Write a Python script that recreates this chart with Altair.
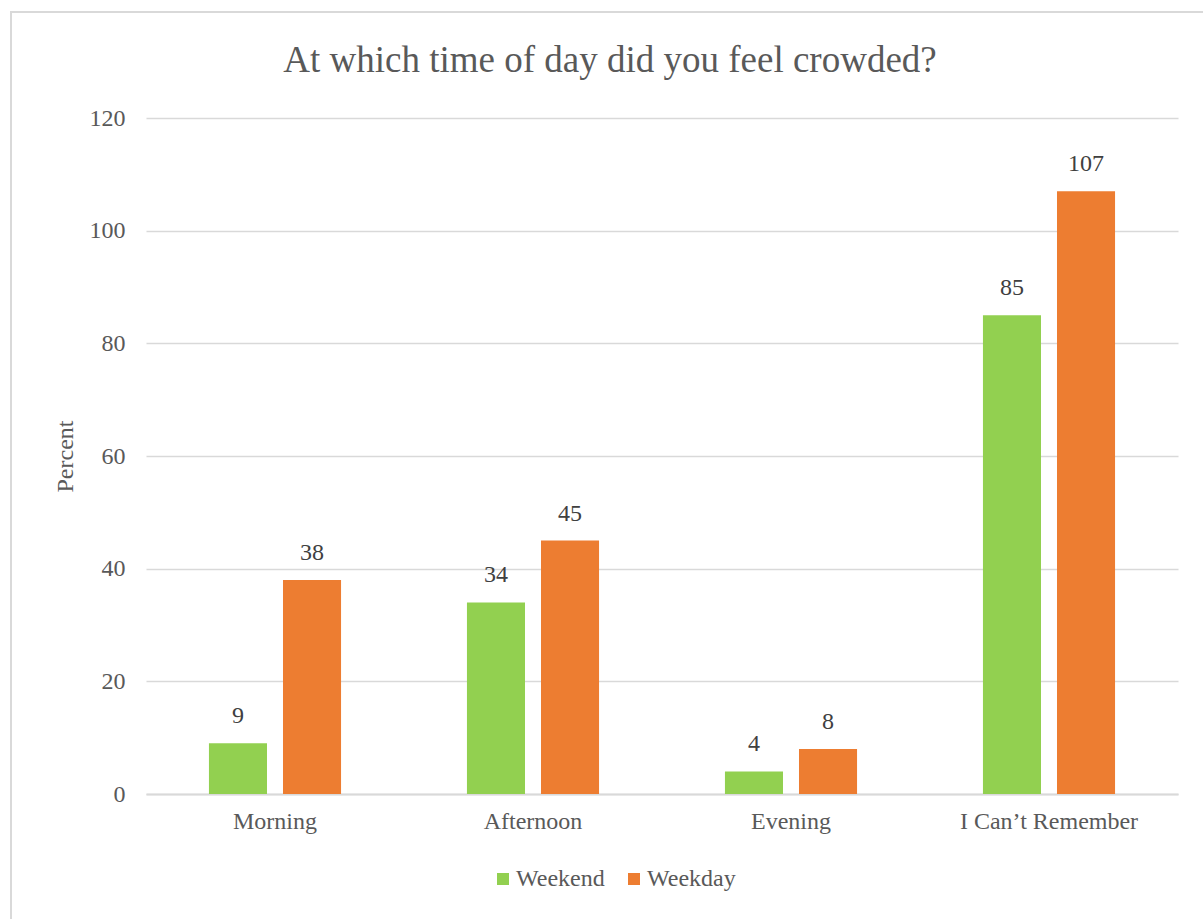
import altair as alt
import pandas as pd

# Survey responses per time of day
categories = ["Morning", "Afternoon", "Evening", "I Can\u2019t Remember"]
weekend = [9, 34, 4, 85]
weekday = [38, 45, 8, 107]
series = ["Weekend", "Weekday"]
colors = ["#92D050", "#ED7D31"]
y_ticks = [0, 20, 40, 60, 80, 100, 120]

rows = []
for cat, we, wd in zip(categories, weekend, weekday):
    rows.append({"time": cat, "group": "Weekend", "value": we})
    rows.append({"time": cat, "group": "Weekday", "value": wd})
df = pd.DataFrame(rows)

FONT = "Liberation Serif"

x_enc = alt.X(
    "time:N",
    sort=categories,
    scale=alt.Scale(paddingInner=0.488, paddingOuter=0.244),
    axis=alt.Axis(
        title=None,
        labelAngle=0,
        labelFontSize=24,
        labelFont=FONT,
        labelColor="#595959",
        labelPadding=15,
        ticks=False,
        domain=True,
        domainColor="#d9d9d9",
        domainWidth=2,
        grid=False,
    ),
)
offset_enc = alt.XOffset(
    "group:N", sort=series, scale=alt.Scale(paddingInner=0.216, paddingOuter=0)
)
y_enc = alt.Y(
    "value:Q",
    scale=alt.Scale(domain=[0, 120], nice=False),
    axis=alt.Axis(
        values=y_ticks,
        title="Percent",
        titleFont=FONT,
        titleFontSize=24,
        titleFontWeight="normal",
        titleColor="#595959",
        titleAngle=-90,
        titleX=-81,
        titleY=338,
        titleAlign="center",
        titleBaseline="middle",
        labelFont=FONT,
        labelFontSize=24,
        labelColor="#595959",
        labelPadding=21,
        ticks=False,
        domain=False,
        grid=True,
        gridColor="#d9d9d9",
        gridWidth=1.5,
    ),
)
color_enc = alt.Color(
    "group:N",
    sort=series,
    scale=alt.Scale(domain=series, range=colors),
    legend=alt.Legend(
        title=None,
        orient="none",
        direction="horizontal",
        legendX=345,
        legendY=749,
        symbolType="square",
        symbolSize=144,
        symbolStrokeWidth=0,
        labelFont=FONT,
        labelFontSize=24,
        labelColor="#595959",
        labelOffset=1,
        columnPadding=17,
    ),
)

# outer chart frame
frame = alt.Chart(pd.DataFrame({"k": [0]})).mark_rect(
    fill=None, stroke="#d9d9d9", strokeWidth=2, clip=False
).encode(
    x=alt.value(-135), x2=alt.value(1200), y=alt.value(-106), y2=alt.value(900)
)

bars = alt.Chart(df).mark_bar().encode(
    x=x_enc, xOffset=offset_enc, y=y_enc, color=color_enc
)

labels = alt.Chart(df).mark_text(
    font=FONT, fontSize=24, color="#404040", baseline="alphabetic", dy=-20
).encode(
    x=alt.X("time:N", sort=categories),
    xOffset=alt.XOffset("group:N", sort=series),
    y="value:Q",
    text="value:Q",
)

chart = (
    alt.layer(frame, bars, labels)
    .properties(
        width=1032,
        height=676,
        autosize=alt.AutoSizeParams(type="none"),
        padding={"left": 146, "top": 118, "right": 25, "bottom": 125},
        title=alt.Title(
            "At which time of day did you feel crowded?",
            font=FONT,
            fontSize=37,
            fontWeight="normal",
            color="#595959",
            anchor="middle",
            baseline="alphabetic",
            dx=-52,
            offset=-98,
        ),
    )
    .configure(background="white", font=FONT)
    .configure_view(stroke="transparent", strokeWidth=0)
)

chart.save("out.html", embed_options={"renderer": "svg", "actions": False})
